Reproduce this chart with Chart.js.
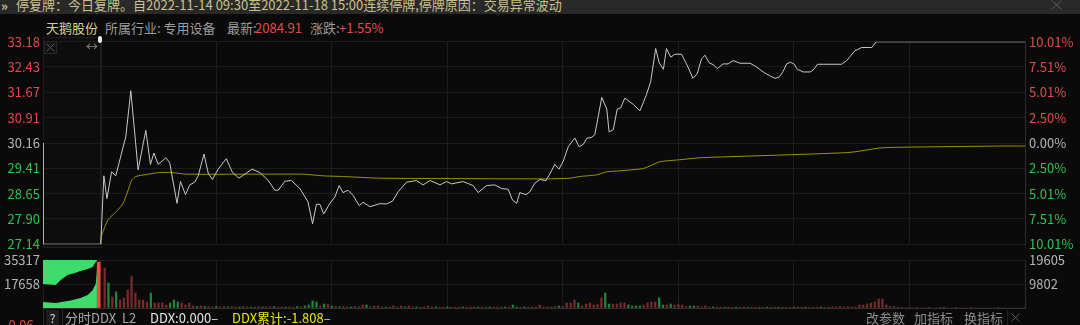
<!DOCTYPE html>
<html><head><meta charset="utf-8">
<script src="https://cdn.jsdelivr.net/npm/chart.js@4/dist/chart.umd.min.js"></script>
<style>
html,body{margin:0;padding:0;background:#0a0a0a;width:1080px;height:325px;overflow:hidden;font-family:"Noto Sans CJK SC","Noto Sans",sans-serif;}
.abs{position:absolute;white-space:nowrap;}
canvas{position:absolute;left:0;}
#topbar{left:0;top:0;width:1080px;height:14px;background:#292929;overflow:hidden;}
.t13{font-size:13px;line-height:15px;}
</style></head>
<body>
<div id="topbar" class="abs">
  <span class="abs" style="left:1px;top:-4px;color:#c9c089;font-size:13px;font-weight:bold;">»</span>
  <span class="abs t13" style="left:16px;top:-3px;color:#c9c28c;">停复牌：今日复牌。自2022-11-14 09:30至2022-11-18 15:00连续停牌,停牌原因：交易异常波动</span>
  <svg class="abs" style="left:1051px;top:0px" width="11" height="10"><path d="M0.5 0.5 L10.5 9.5 M10.5 0.5 L0.5 9.5" stroke="#5a5a5a" stroke-width="1"/></svg>
</div>
<div class="abs t13" style="left:46px;top:20px;color:#d6cf9a;">天鹅股份</div>
<div class="abs t13" style="left:105px;top:20px;color:#9c9c9c;">所属行业: 专用设备</div>
<div class="abs t13" style="left:227px;top:20px;color:#9c9c9c;">最新:</div>
<div class="abs t13" style="left:255px;top:20px;color:#e24a4a;">2084.91</div>
<div class="abs t13" style="left:310px;top:20px;color:#9c9c9c;">涨跌:</div>
<div class="abs t13" style="left:339px;top:20px;color:#e24a4a;">+1.55%</div>

<div class="abs" style="left:43px;top:37px;width:57px;height:209px;border:1px solid #1d1d1d;background:#0d0d0d;"></div>

<canvas id="pc" width="1080" height="226" style="top:30px"></canvas>
<canvas id="vc" width="1080" height="77" style="top:248px"></canvas>

<div class="abs" style="left:44px;top:41px;width:11px;height:11px;border:1px solid #262626;background:#121212;"></div>
<svg class="abs" style="left:46px;top:43px" width="9" height="9"><path d="M0.5 0.5 L8.5 8.5 M8.5 0.5 L0.5 8.5" stroke="#555" stroke-width="1"/></svg>
<div class="abs" style="left:86px;top:39px;color:#8a8a8a;font-size:12px;line-height:14px;">↔</div>
<div class="abs" style="left:98px;top:36px;width:4px;height:7px;background:#e6e6e6;border-radius:2px;"></div>

<div class="abs" style="left:43px;top:309px;width:1px;height:16px;background:#2a2a2a;"></div>
<div class="abs" style="left:46px;top:310px;width:13px;height:15px;background:#1c1c1c;color:#dcdcdc;font-size:12px;line-height:15px;text-align:center;">?</div>
<div class="abs" style="left:62px;top:309px;width:1px;height:16px;background:#2a2a2a;"></div>
<div class="abs t13" style="left:65px;top:310px;color:#a8a8a8;">分时DDX&nbsp;&nbsp;L2</div>
<div class="abs t13" style="left:150px;top:310px;color:#e6e6e6;">DDX:0.000–</div>
<div class="abs t13" style="left:232px;top:310px;color:#e6e600;">DDX累计:-1.808–</div>
<div class="abs t13" style="left:866px;top:310px;color:#8c8c8c;">改参数</div>
<div class="abs t13" style="left:914px;top:310px;color:#8c8c8c;">加指标</div>
<div class="abs t13" style="left:964px;top:310px;color:#8c8c8c;">换指标</div>
<div class="abs" style="left:1007px;top:310px;width:17px;height:15px;border-left:1px solid #222;"></div>
<svg class="abs" style="left:1011px;top:313px" width="9" height="9"><path d="M0.5 0.5 L8.5 8.5 M8.5 0.5 L0.5 8.5" stroke="#555" stroke-width="1"/></svg>
<div class="abs t13" style="left:4px;top:317px;color:#e24a4a;">-0.06</div>

<script>
// ---------- data ----------
const prevClose = 30.16;
const timeGrid = [-15, 0, 30, 60, 90, 120, 150, 180, 210, 240];
const priceTicks = [27.14, 27.90, 28.65, 29.41, 30.16, 30.91, 31.67, 32.43, 33.18];
const pctTicks = [-10.01, -7.51, -5.01, -2.50, 0, 2.50, 5.01, 7.51, 10.01];
const volTicks = [0, 17658, 35317];
const ddxTicks = [9802, 19605];

// minute offsets from 09:30 (negative = call auction)
const priceMin = [-15, -15, 0, 0.8, 1.6, 2.8, 3.9, 5.4, 6.5, 7.8, 9.7, 11.7, 12.9, 13.8, 14.9, 16.9, 17.9, 19.8, 20.7, 22.0,
  23.1, 24.4, 25.3, 26.8, 27.9, 29.0, 30.5, 32.6, 34.2, 35.9, 37.4, 39.3, 41.3, 43.5, 45.2, 46.1, 47.8, 49.5, 51.7, 53.8,
  55.0, 56.0, 56.9, 57.9, 59.5, 60.8, 61.9, 62.9, 64.2, 65.5, 67.1, 68.1, 69.9, 72.5, 74.2, 75.8, 77.2, 79.4, 82.0, 83.7,
  85.5, 88.1, 89.8, 91.1, 94.1, 96.7, 98.0, 100.2, 102.3, 104.1, 105.8, 106.9, 108.0, 108.8, 110.4, 111.4, 112.7, 114.0, 115.6, 116.6,
  117.9, 119.0, 120.1, 121.4, 123.1, 124.2, 125.3, 126.2, 127.5, 128.3, 130.1, 131.4, 132.0, 133.1, 134.1, 135.0, 136.1, 138.3, 140.0, 141.7,
  142.8, 144.1, 145.0, 146.1, 146.9, 148.0, 149.1, 150.8, 152.1, 153.8, 154.9, 156.0, 156.9, 158.0, 159.0, 160.1, 161.6, 162.9, 164.2, 166.0,
  168.6, 170.3, 172.0, 173.8, 175.1, 176.2, 177.2, 178.1, 179.1, 180.0, 180.9, 182.4, 184.2, 185.2, 186.1, 187.6, 192.4, 193.7, 195.8, 197.6,
  200.2, 201.3, 240];
const priceVal = [30.16, 27.14, 27.14, 29.18, 28.50, 29.30, 29.18, 29.86, 30.34, 31.72, 29.36, 30.54, 29.52, 29.86, 29.52, 29.72, 29.57, 28.36, 29.01, 28.62,
  28.91, 28.99, 29.18, 29.83, 29.26, 29.07, 29.38, 29.69, 29.28, 29.11, 29.23, 29.38, 29.28, 29.04, 28.75, 28.75, 29.02, 29.04, 28.80, 28.41,
  27.75, 28.33, 28.33, 28.04, 28.36, 28.55, 28.89, 28.68, 28.75, 28.60, 28.29, 28.39, 28.26, 28.35, 28.34, 28.43, 28.70, 28.99, 29.04, 28.91,
  29.04, 28.91, 29.01, 28.94, 29.01, 28.89, 28.68, 28.89, 28.91, 28.80, 28.78, 28.46, 28.36, 28.68, 28.62, 28.70, 28.96, 29.07, 29.04, 29.23,
  29.52, 29.38, 29.62, 30.05, 30.31, 30.05, 30.12, 30.30, 30.33, 30.41, 31.52, 31.17, 30.49, 30.56, 31.17, 31.21, 31.50, 31.31, 31.12, 31.60,
  31.99, 32.98, 32.55, 32.36, 32.98, 32.72, 32.81, 32.81, 32.52, 32.09, 32.23, 32.67, 32.78, 32.55, 32.50, 32.38, 32.52, 32.52, 32.62, 32.54,
  32.54, 32.43, 32.28, 32.16, 32.09, 32.13, 32.30, 32.52, 32.57, 32.52, 32.36, 32.28, 32.28, 32.36, 32.51, 32.51, 32.51, 32.62, 32.91, 33.01,
  33.01, 33.18, 33.18];

const avgMin = [0, 0.2, 1.9, 4.1, 5.8, 7.1, 8.0, 9.1, 12.3, 15.3, 18.3, 22.3, 52.5, 57.7, 63.0, 72.5, 109.7, 115.8, 121.8, 124.4,
  128.8, 131.4, 134.8, 140.9, 145.2, 150.4, 155.6, 176.4, 194.5, 202.3, 205.8, 233.5, 240];
const avgVal = [27.14, 27.39, 27.87, 28.12, 28.36, 28.75, 29.04, 29.16, 29.23, 29.28, 29.28, 29.23, 29.23, 29.18, 29.16, 29.11, 29.09, 29.09, 29.11, 29.16,
  29.21, 29.30, 29.33, 29.40, 29.60, 29.66, 29.72, 29.80, 29.88, 30.01, 30.03, 30.07, 30.07];

// call-auction panel (09:15-09:30)
const auctionMin = [-15, -11.7, -10.4, -8.6, -6.75, -5.2, -3.4, -2.1, -1.3, -1.0];
const auctionUpper = [17660, 16930, 20600, 24290, 25760, 27230, 28700, 30180, 33860, 34590];
const auctionLowerMin = [-15, -11.7, -7.8, -5.2, -3.4, -2.1, -1.3, -1.0];
const auctionLower = [4400, 3700, 5500, 7360, 9570, 13030, 17900, 28900];
const auctionBar = 33800;

// per-minute DDX volume bars, minutes 1..240
const volume = [
  29400, 18400, 8100, 11800, 5900, 7400, 13200, 23500, 11000, 5900,
  5900, 4400, 11000, 3700, 3700, 3700, 2200, 3700, 5900, 4400,
  3700, 2200, 3700, 1500, 1100, 1500, 1100, 1100, 800, 1100,
  800, 1100, 800, 1100, 800, 700, 1100, 800, 700, 800,
  1100, 700, 800, 800, 1100, 700, 800, 700, 800, 700,
  1100, 800, 1500, 2200, 5200, 4400, 1500, 2900, 2900, 1500,
  1100, 800, 1100, 800, 700, 1100, 800, 2200, 2200, 800,
  1500, 1500, 800, 700, 800, 1500, 700, 1500, 800, 1500,
  700, 800, 700, 800, 1500, 700, 800, 700, 700, 800,
  700, 700, 700, 800, 700, 700, 800, 700, 700, 700,
  800, 700, 700, 800, 700, 800, 2200, 800, 700, 800,
  700, 700, 800, 2200, 800, 700, 800, 1100, 1500, 1100,
  3700, 3700, 5900, 3700, 1500, 2900, 3700, 2200, 2900, 7400,
  11000, 2900, 2900, 2900, 3700, 3700, 2200, 1500, 1500, 1500,
  2200, 3700, 4400, 4400, 7400, 2200, 2200, 2900, 2200, 2900,
  2200, 1100, 1500, 1500, 1500, 800, 1500, 700, 800, 700,
  700, 600, 700, 600, 700, 600, 700, 600, 700, 600,
  700, 600, 700, 600, 700, 600, 700, 600, 700, 600,
  700, 600, 700, 600, 700, 600, 700, 600, 700, 800,
  700, 1100, 700, 800, 700, 800, 2200, 2200, 2900, 3700,
  4400, 6600, 6600, 2200, 1100, 1100, 700, 500, 0, 500,
  0, 500, 0, 0, 500, 0, 0, 500, 700, 0,
  0, 500, 0, 0, 0, 500, 0, 0, 0, 0,
  0, 0, 500, 0, 0, 0, 0, 0, 0, 500];
const volSide = [
  "rgrgrrrrrr", "rrgrrrrggg", "rrrrgrgrrg", "rrgrrgrrgr", "rgrrgrrgrr", "grggggrgrg",
  "rgrrgrrrgr", "rrrgrrrrgr", "rgrrrrgrrg", "rrrgrrrgrr", "grrrgrggrg", "rrrrrrrrgr",
  "rrrgrrrrrr", "ggrrrrgggg", "rrrrggrgrr", "rrggrrrrgr", "rgrrgrrgrr", "rrgrrgrrrg",
  "rrgrrrgrrr", "rrrrrrrrrr", "rrrrrrrrrr", "rrrrrrrrrr", "rrrrrrrrrr", "rrrrrrrrrr"].join("");

// ---------- chart ----------
const FONT = "'Noto Sans CJK SC','Noto Sans',sans-serif";
const RED = '#e24a4a', GREEN = '#2fc24f', GRAY = '#b4b4b4', GRID = '#1c1c1c';
const pts = (xs, ys) => xs.map((x, i) => ({x: x, y: ys[i]}));
const setTicks = arr => s => { s.ticks = arr.map(v => ({value: v})); };
const makeX = () => ({
  type: 'linear', min: -15, max: 240, offset: false,
  afterBuildTicks: setTicks(timeGrid),
  ticks: {display: false},
  grid: {color: GRID, drawTicks: false, offset: false},
  border: {display: false},
  afterFit: s => { s.height = 0; }
});

new Chart(document.getElementById('pc'), {
  type: 'line',
  data: {datasets: [
    {data: pts(priceMin, priceVal), borderColor: '#c8c8c8', borderWidth: 1, pointRadius: 0, tension: 0, yAxisID: 'y'},
    {data: pts(avgMin, avgVal), borderColor: '#9a9500', borderWidth: 1, pointRadius: 0, tension: 0.2, yAxisID: 'y'}
  ]},
  options: {
    responsive: false, animation: false, devicePixelRatio: 1,
    layout: {padding: {top: 9, bottom: 10, left: 0, right: 0}},
    plugins: {legend: {display: false}, tooltip: {enabled: false}},
    scales: {
      x: makeX(),
      y: {
        position: 'left', min: priceTicks[0], max: priceTicks[priceTicks.length - 1],
        afterBuildTicks: setTicks(priceTicks),
        ticks: {autoSkip: false, padding: 3, font: {family: FONT, size: 13},
          color: c => c.tick.value > prevClose + 1e-6 ? RED : (c.tick.value < prevClose - 1e-6 ? GREEN : GRAY),
          callback: v => v.toFixed(2)},
        grid: {color: GRID, drawTicks: false},
        border: {display: false},
        afterFit: s => { s.width = 43; }
      },
      y2: {
        position: 'right', min: pctTicks[0], max: pctTicks[pctTicks.length - 1],
        afterBuildTicks: setTicks(pctTicks),
        ticks: {autoSkip: false, padding: 4, font: {family: FONT, size: 13},
          color: c => c.tick.value > 0 ? RED : (c.tick.value < 0 ? GREEN : GRAY),
          callback: v => Math.abs(v).toFixed(2) + '%'},
        grid: {display: false, drawTicks: false},
        border: {display: true, color: '#2c2c2c'},
        afterFit: s => { s.width = 55; }
      }
    }
  }
});

const barPts = volume.map((v, i) => ({x: i + 1, y: v}));
const barColors = volume.map((v, i) => volSide[i] === 'g' ? '#25823a' : '#7a2a2a');

new Chart(document.getElementById('vc'), {
  type: 'bar',
  data: {datasets: [
    {type: 'line', data: pts(auctionMin, auctionUpper), fill: 'end', backgroundColor: '#3fdc6c', borderWidth: 0, pointRadius: 0, yAxisID: 'y'},
    {type: 'line', data: pts(auctionLowerMin, auctionLower), fill: 'origin', backgroundColor: '#3fdc6c', borderWidth: 0, pointRadius: 0, yAxisID: 'y'},
    {type: 'bar', data: barPts, backgroundColor: barColors, barThickness: 1.6, grouped: false, yAxisID: 'y'},
    {type: 'bar', data: [{x: -0.55, y: auctionBar}], backgroundColor: '#ff4646', barThickness: 3, grouped: false, yAxisID: 'y'}
  ]},
  options: {
    responsive: false, animation: false, devicePixelRatio: 1,
    layout: {padding: {top: 12, bottom: 17, left: 0, right: 0}},
    plugins: {legend: {display: false}, tooltip: {enabled: false}},
    scales: {
      x: makeX(),
      y: {
        position: 'left', min: 0, max: volTicks[volTicks.length - 1],
        afterBuildTicks: setTicks(volTicks),
        ticks: {autoSkip: false, padding: 3, font: {family: FONT, size: 13}, color: GRAY,
          callback: v => v === 0 ? '' : String(v)},
        grid: {color: c => c.tick.value === 0 ? '#303030' : GRID, drawTicks: false},
        border: {display: false},
        afterFit: s => { s.width = 43; }
      },
      y2: {
        position: 'right', min: 0, max: ddxTicks[ddxTicks.length - 1],
        afterBuildTicks: setTicks(ddxTicks),
        ticks: {autoSkip: false, padding: 4, font: {family: FONT, size: 13}, color: GRAY,
          callback: v => String(v)},
        grid: {display: false, drawTicks: false},
        border: {display: true, color: '#2c2c2c'},
        afterFit: s => { s.width = 55; }
      }
    }
  }
});
</script>
</body></html>
